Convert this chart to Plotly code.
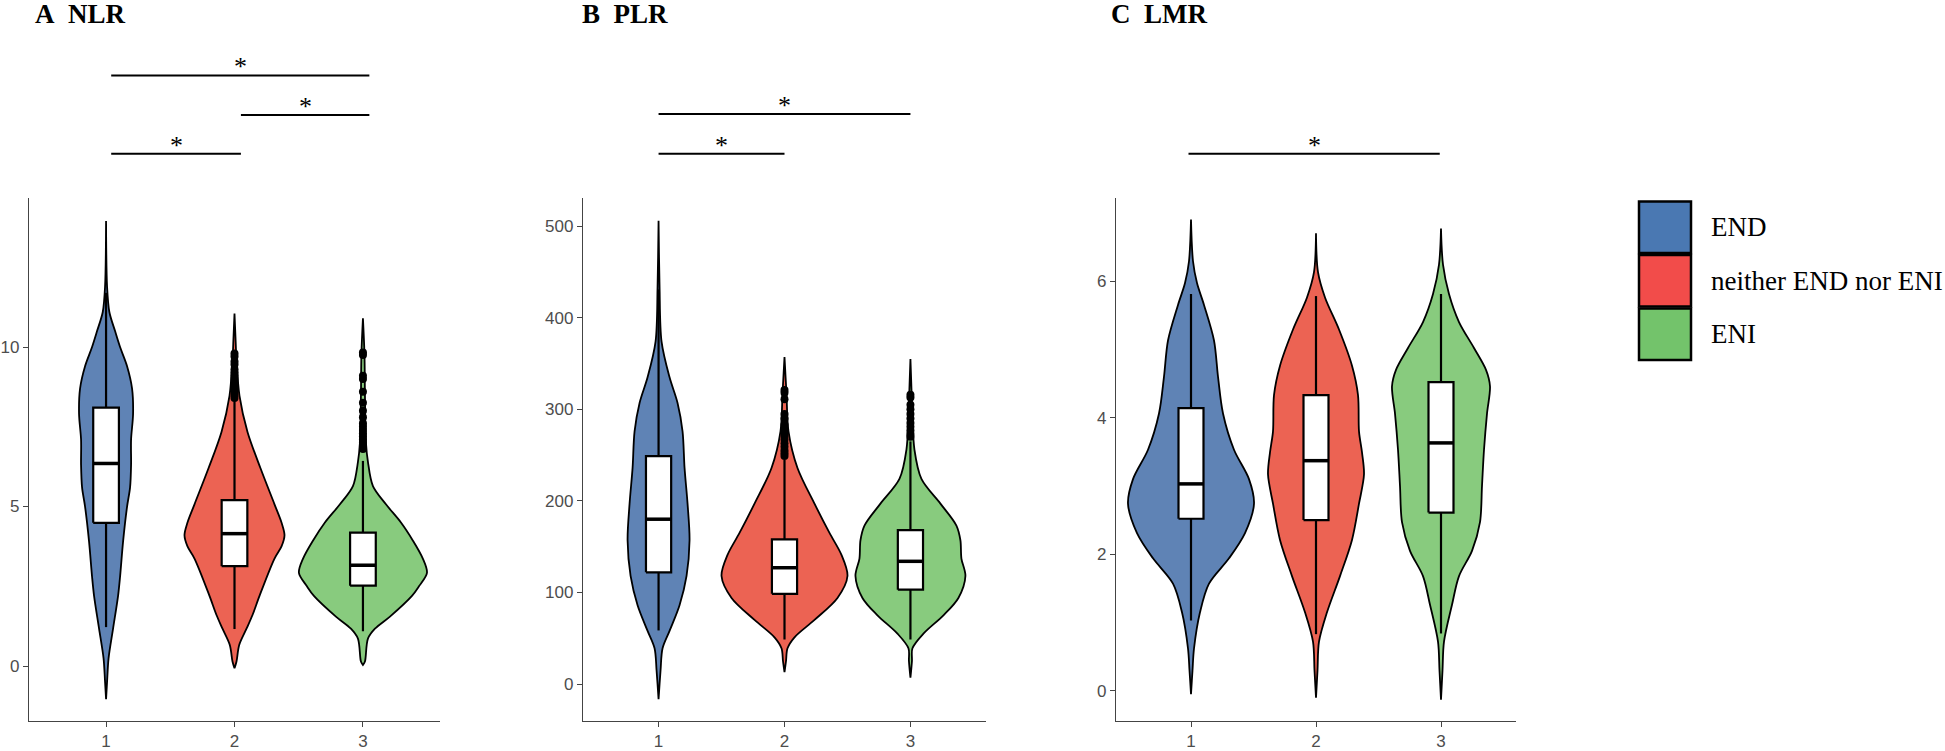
import plotly.graph_objects as go
import numpy as np

# ---------------- data ----------------
categories = [1, 2, 3]
group_names = ["END", "neither END nor ENI", "ENI"]
panel_titles = ["A\u00a0\u00a0NLR", "B\u00a0\u00a0PLR", "C\u00a0\u00a0LMR"]
violin_colors = ["#5f83b5", "#ec6353", "#88cb7e"]
legend_colors = ["#4a78b2", "#f24c4a", "#73c36b"]

# violin density profiles: value levels and relative half-width
nlr_levels = [
    [-1.04, -0.5, 0.24, 1.17, 2.2, 2.8, 3.9, 5.0, 5.6, 6.3, 7.1, 7.9, 8.7, 9.4, 10.0, 10.5, 11.1, 11.9, 13.95],
    [-0.07, 0.14, 0.66, 1.17, 1.6, 2.2, 3.37, 3.75, 4.1, 4.5, 5.07, 6.2, 7.34, 8.47, 9.6, 10.3, 11.05],
    [0.03, 0.14, 0.86, 1.17, 1.55, 2.2, 2.5, 2.92, 3.36, 3.93, 4.5, 5.07, 5.64, 6.4, 7.0, 8.5, 9.8, 10.9],
]
nlr_dens = [
    [0, 1, 2.5, 7, 12, 14, 17, 21, 24, 25, 25, 27, 26, 21, 14, 9, 3.3, 1, 0],
    [0, 2, 4.7, 12, 18, 25, 40, 47, 50, 47, 40, 26, 13, 5, 2, 1, 0],
    [0, 2, 5, 12, 27, 49, 56, 64, 60, 50, 38, 23, 10, 5, 3, 2, 1.5, 0],
]
plr_levels = [
    [-16.6, 15, 39, 58, 86, 118, 157, 197, 236, 276, 307, 335, 374, 434, 506],
    [13, 25, 39, 51, 70, 94, 118, 141, 165, 197, 236, 276, 317, 357],
    [7, 25, 39, 55, 75, 94, 118, 137, 157, 173, 197, 224, 256, 295, 355],
]
plr_dens = [
    [0, 2, 4, 11, 21, 28, 31, 29, 26, 24, 19, 11, 3, 1, 0],
    [0, 1.5, 3, 10, 30, 53, 63, 57, 45, 30, 13, 4, 2, 0],
    [0, 1.5, 2, 13, 33, 48, 55, 51, 50, 46, 30, 11, 4, 2, 0],
]
lmr_levels = [
    [-0.05, 0.3, 0.62, 1.15, 1.57, 1.94, 2.31, 2.74, 3.1, 3.53, 4.06, 4.6, 5.13, 5.65, 5.97, 6.29, 6.9],
    [-0.1, 0.3, 0.72, 1.15, 1.68, 2.21, 2.74, 3.17, 3.49, 3.8, 4.33, 4.76, 5.29, 5.76, 6.13, 6.7],
    [-0.13, 0.3, 0.72, 1.26, 1.68, 2.05, 2.47, 3.0, 3.53, 4.06, 4.46, 4.7, 5.02, 5.4, 5.81, 6.24, 6.77],
]
lmr_dens = [
    [0, 1.5, 3, 9, 18, 38, 54, 63, 58, 43, 32, 27, 23, 13, 6, 2, 0],
    [0, 1.5, 3, 11, 24, 36, 43, 48, 46, 43, 42, 36, 23, 9, 2, 0],
    [0, 1.5, 3, 11, 18, 31, 39, 41, 43, 46, 49, 45, 33, 18, 8, 2, 0],
]

# box statistics: lower whisker, q1, median, q3, upper whisker
nlr_lower = [1.22, 1.16, 1.09]
nlr_q1 = [4.49, 3.13, 2.52]
nlr_median = [6.35, 4.15, 3.16]
nlr_q3 = [8.10, 5.20, 4.18]
nlr_upper = [11.7, 8.3, 6.43]

plr_lower = [58.5, 48.6, 48.6]
plr_q1 = [122, 98.5, 103]
plr_median = [180, 127, 134]
plr_q3 = [249, 158, 168]
plr_upper = [431, 245, 265]

lmr_lower = [1.03, 0.83, 0.84]
lmr_q1 = [2.52, 2.50, 2.61]
lmr_median = [3.03, 3.37, 3.63]
lmr_q3 = [4.14, 4.33, 4.52]
lmr_upper = [5.81, 5.78, 5.81]

nlr_outliers = [
    [],
    [8.4, 8.5, 8.6, 8.7, 8.8, 8.9, 9.0, 9.1, 9.2, 9.3, 9.45, 9.55, 9.7, 9.8],
    [6.8, 6.9, 7.0, 7.1, 7.2, 7.3, 7.4, 7.5, 7.6, 7.8, 8.0, 8.25, 8.6, 9.0, 9.1, 9.75, 9.83],
]
plr_outliers = [
    [],
    [249, 252, 255, 259, 263, 267, 271, 275, 279, 283, 290, 295, 311, 318, 321],
    [270, 273, 277, 281, 285, 290, 295, 300, 305, 313, 316],
]
lmr_outliers = [[], [], []]

# significance comparisons (group a, group b) per panel
nlr_pairs = [(1.04, 3.05), (2.05, 3.05), (1.04, 2.05)]
plr_pairs = [(1.0, 3.0), (1.0, 2.0)]
lmr_pairs = [(0.98, 2.99)]
sig_label = "*"

# ---------------- layout helpers ----------------
W, H = 1945, 751
BOX_HALF = 0.1


def fx(p):
    return p / W


def fy(p):
    return 1 - p / H


panels = [
    dict(levels=nlr_levels, dens=nlr_dens, lower=nlr_lower, q1=nlr_q1, med=nlr_median, q3=nlr_q3,
         upper=nlr_upper, out=nlr_outliers, pairs=nlr_pairs, pair_y=[76, 116, 155],
         xdom=[29, 440], yrange=[-1.72, 14.66], tickvals=[0, 5, 10], scale=1 / 128.4,
         title_x=33),
    dict(levels=plr_levels, dens=plr_dens, lower=plr_lower, q1=plr_q1, med=plr_median, q3=plr_q3,
         upper=plr_upper, out=plr_outliers, pairs=plr_pairs, pair_y=[115, 155],
         xdom=[583, 986], yrange=[-40.3, 530.4], tickvals=[0, 100, 200, 300, 400, 500], scale=1 / 126,
         title_x=580),
    dict(levels=lmr_levels, dens=lmr_dens, lower=lmr_lower, q1=lmr_q1, med=lmr_median, q3=lmr_q3,
         upper=lmr_upper, out=lmr_outliers, pairs=lmr_pairs, pair_y=[155],
         xdom=[1116, 1516], yrange=[-0.44, 7.21], tickvals=[0, 2, 4, 6], scale=1 / 125,
         title_x=1109),
]

fig = go.Figure()
shapes = []
annotations = []
AXIS_COL = "#444444"
TICK_FONT = dict(family="Liberation Sans, Arial", size=17, color="#4d4d4d")

for pi, p in enumerate(panels):
    sfx = "" if pi == 0 else str(pi + 1)
    xa, ya = "x" + sfx, "y" + sfx
    common = dict(xaxis=xa, yaxis=ya, hoverinfo="skip", showlegend=False)
    # violins
    for gi, c in enumerate(categories):
        lv = np.array(p["levels"][gi], dtype=float)
        hw = np.array(p["dens"][gi], dtype=float) * p["scale"]
        xs = np.concatenate([c - hw, (c + hw)[::-1], [c - hw[0]]])
        ys = np.concatenate([lv, lv[::-1], [lv[0]]])
        fig.add_trace(go.Scatter(
            x=xs, y=ys, mode="lines", fill="toself", fillcolor=violin_colors[gi],
            line=dict(color="black", width=1.8, shape="spline", smoothing=0.9), **common))
    # boxplots (drawn as scatter so they sit above the violins)
    for gi, c in enumerate(categories):
        lo, q1, md, q3, up = p["lower"][gi], p["q1"][gi], p["med"][gi], p["q3"][gi], p["upper"][gi]
        fig.add_trace(go.Scatter(
            x=[c, c, None, c, c], y=[lo, q1, None, q3, up], mode="lines",
            line=dict(color="black", width=2.2), **common))
        fig.add_trace(go.Scatter(
            x=[c - BOX_HALF, c + BOX_HALF, c + BOX_HALF, c - BOX_HALF, c - BOX_HALF],
            y=[q1, q1, q3, q3, q1], mode="lines", fill="toself", fillcolor="white",
            line=dict(color="black", width=2.2), **common))
        fig.add_trace(go.Scatter(
            x=[c - BOX_HALF, c + BOX_HALF], y=[md, md], mode="lines",
            line=dict(color="black", width=3.5), **common))
        if p["out"][gi]:
            fig.add_trace(go.Scatter(
                x=[c] * len(p["out"][gi]), y=p["out"][gi], mode="markers",
                marker=dict(color="black", size=8), **common))
    # significance bars
    for (a, b), ly in zip(p["pairs"], p["pair_y"]):
        shapes.append(dict(type="line", xref=xa, yref="paper", x0=a, x1=b,
                           y0=fy(ly), y1=fy(ly), line=dict(color="black", width=2)))
        annotations.append(dict(x=(a + b) / 2, y=fy(ly + 8), xref=xa, yref="paper",
                                text=sig_label, showarrow=False, xanchor="center", yanchor="bottom",
                                font=dict(family="Liberation Serif", size=26, color="black")))
    # panel title
    annotations.append(dict(x=fx(p["title_x"]), y=1.004, xref="paper", yref="paper",
                            text="<b>" + panel_titles[pi] + "</b>", showarrow=False,
                            xanchor="left", yanchor="top",
                            font=dict(family="Liberation Serif", size=27, color="black")))
    axcommon = dict(showline=True, linecolor=AXIS_COL, linewidth=1.3, ticks="outside",
                    ticklen=5, tickwidth=1.3, tickcolor=AXIS_COL, showgrid=False,
                    zeroline=False, tickfont=TICK_FONT, mirror=False)
    fig.update_layout(**{
        ("xaxis" + sfx): dict(domain=[fx(p["xdom"][0]), fx(p["xdom"][1])], range=[0.4, 3.6],
                              tickvals=categories, ticktext=[str(c) for c in categories],
                              anchor=ya, **axcommon),
        ("yaxis" + sfx): dict(domain=[fy(726.7), fy(200)], range=p["yrange"],
                              tickvals=p["tickvals"], anchor=xa, **axcommon),
    })

# legend (custom keys)
key_tops = [203, 257, 311]
for gi, name in enumerate(group_names):
    t = key_tops[gi]
    shapes.append(dict(type="rect", xref="paper", yref="paper", x0=fx(1639), x1=fx(1691),
                       y0=fy(t + 52), y1=fy(t), fillcolor=legend_colors[gi],
                       line=dict(color="black", width=2.5)))
    annotations.append(dict(x=fx(1709), y=fy(t + 26), xref="paper", yref="paper", text=name,
                            showarrow=False, xanchor="left", yanchor="middle",
                            font=dict(family="Liberation Serif", size=27, color="black")))

fig.update_layout(width=W, height=H, margin=dict(l=0, r=0, t=0, b=0),
                  plot_bgcolor="white", paper_bgcolor="white", showlegend=False,
                  shapes=shapes, annotations=annotations)
fig.write_html("out.html", config={"displayModeBar": False},
               post_script="document.body.style.margin='0px';document.body.style.overflow='hidden';")
